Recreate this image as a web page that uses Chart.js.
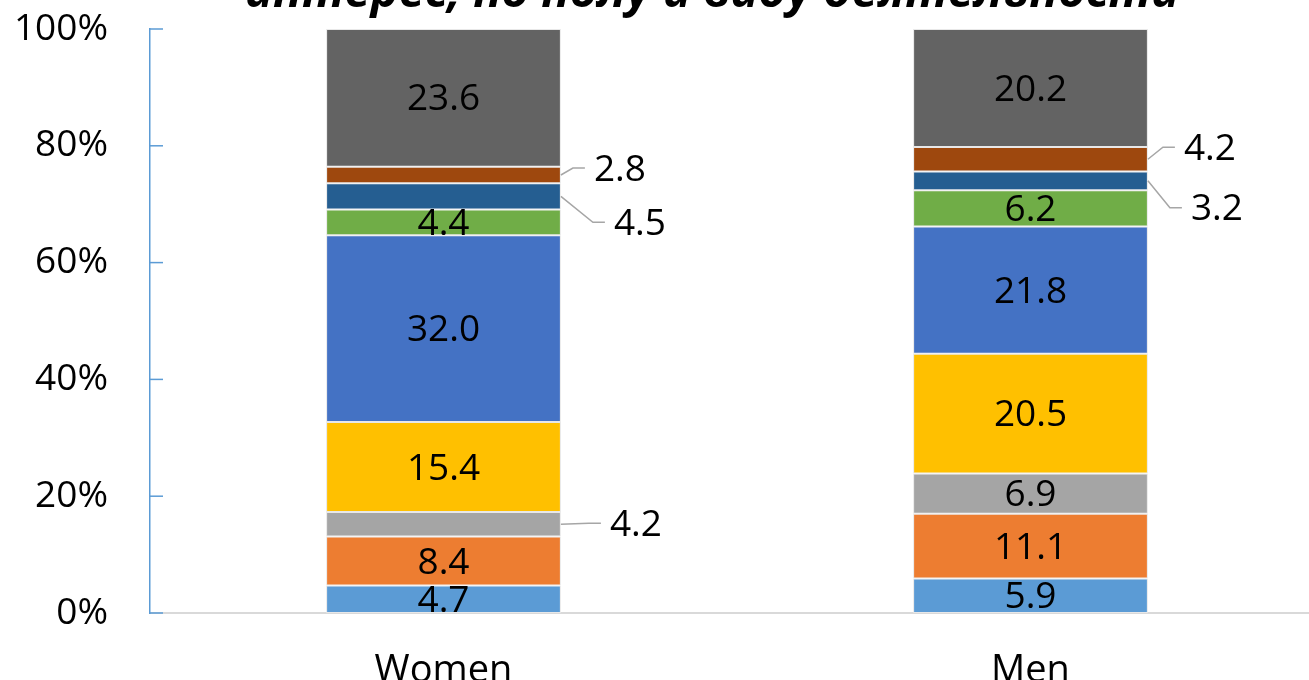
<!DOCTYPE html>
<html>
<head>
<meta charset="utf-8">
<script src="https://cdn.jsdelivr.net/npm/chart.js@4.4.1/dist/chart.umd.min.js"></script>
<style>
  html, body { margin: 0; padding: 0; overflow: hidden; background: #fff; }
  canvas { display: block; }
</style>
</head>
<body>
<canvas id="grafico" width="1324" height="680"></canvas>
<script>
// categorias e valores (% por segmento, de baixo para cima)
var categorias = ["Women", "Men"];
var serie1 = [4.7, 5.9];
var serie2 = [8.4, 11.1];
var serie3 = [4.2, 6.9];
var serie4 = [15.4, 20.5];
var serie5 = [32.0, 21.8];
var serie6 = [4.4, 6.2];
var serie7 = [4.5, 3.2];
var serie8 = [2.8, 4.2];
var serie9 = [23.6, 20.2];
var ticksY = [0, 20, 40, 60, 80, 100];

var cores = ["#5B9BD5", "#ED7D31", "#A5A5A5", "#FFC000", "#4472C4", "#70AD47", "#255E91", "#9E480E", "#636363"];

// rótulos que ficam fora da barra, com linha de chamada: [serie, categoria, dx, dy]
var rotulosFora = [
  [2, 0, 28, -1],
  [6, 0, 32, 26],
  [7, 0, 12, -7],
  [6, 1, 22, 27],
  [7, 1, 15, -12]
];

var fonte = "'Open Sans', sans-serif";

function achar_fora(ds, idx) {
  for (var k = 0; k < rotulosFora.length; k++) {
    if (rotulosFora[k][0] === ds && rotulosFora[k][1] === idx) return rotulosFora[k];
  }
  return null;
}

var pluginRotulos = {
  id: 'rotulos',
  afterDatasetsDraw: function(chart) {
    var ctx = chart.ctx;
    ctx.save();
    ctx.font = "37px " + fonte;
    ctx.fillStyle = "#000";
    chart.data.datasets.forEach(function(ds, i) {
      var meta = chart.getDatasetMeta(i);
      meta.data.forEach(function(bar, j) {
        var texto = ds.data[j].toFixed(1);
        var meio = (bar.y + bar.base) / 2;
        var fora = achar_fora(i, j);
        if (fora) {
          var x0 = bar.x + bar.width / 2;
          var x1 = x0 + fora[2];
          var y1 = meio + fora[3];
          ctx.strokeStyle = "#A6A6A6";
          ctx.lineWidth = 1.5;
          ctx.beginPath();
          ctx.moveTo(x0, meio);
          ctx.lineTo(x1, y1);
          ctx.lineTo(x1 + 12, y1);
          ctx.stroke();
          ctx.textAlign = "left";
          ctx.textBaseline = "middle";
          ctx.fillText(texto, x1 + 21, y1 + 2);
        } else {
          ctx.textAlign = "center";
          ctx.textBaseline = "middle";
          ctx.fillText(texto, bar.x, meio + 2);
        }
      });
    });
    ctx.restore();
  }
};

var pluginEixo = {
  id: 'eixo',
  afterDraw: function(chart) {
    var ctx = chart.ctx;
    var y = chart.scales.y;
    ctx.save();
    ctx.strokeStyle = "#5B9BD5";
    ctx.lineWidth = 1.5;
    ticksY.forEach(function(v) {
      var py = y.getPixelForValue(v);
      ctx.beginPath();
      ctx.moveTo(chart.chartArea.left, py);
      ctx.lineTo(chart.chartArea.left + 13, py);
      ctx.stroke();
    });
    // titulo (cortado no topo)
    ctx.fillStyle = "#000";
    ctx.font = "bold italic 47px " + fonte;
    ctx.textAlign = "center";
    ctx.textBaseline = "alphabetic";
    ctx.fillText("интерес, по полу и виду деятельности", 712, 7, 935);
    ctx.restore();
  }
};

var nomes = ["s1", "s2", "s3", "s4", "s5", "s6", "s7", "s8", "s9"];
var series = [serie1, serie2, serie3, serie4, serie5, serie6, serie7, serie8, serie9];

new Chart(document.getElementById("grafico"), {
  type: 'bar',
  data: {
    labels: categorias,
    datasets: series.map(function(s, i) {
      return {
        label: nomes[i],
        data: s,
        backgroundColor: cores[i],
        borderColor: "#E8E8E8",
        borderWidth: 1,
        borderSkipped: false,
        categoryPercentage: 1,
        barPercentage: 0.4
      };
    })
  },
  plugins: [pluginRotulos, pluginEixo],
  options: {
    responsive: false,
    animation: false,
    layout: { padding: { top: 29, right: 0, left: 0, bottom: 0 } },
    plugins: {
      legend: { display: false },
      title: { display: false },
      tooltip: { enabled: false }
    },
    scales: {
      x: {
        stacked: true,
        grid: { display: false, drawTicks: false },
        border: { display: true, color: "#D9D9D9", width: 2 },
        ticks: { color: "#000", font: { family: fonte, size: 38 }, padding: 35 },
        afterFit: function(s) { s.height = 67; s.paddingLeft = 0; s.paddingRight = 0; }
      },
      y: {
        stacked: true,
        min: 0,
        max: 100,
        grid: { display: false, drawTicks: false },
        border: { display: true, color: "#5B9BD5", width: 1.5 },
        ticks: {
          stepSize: 20,
          color: "#000",
          font: { family: fonte, size: 37 },
          padding: 42,
          callback: function(v) { return v + "%"; }
        },
        afterFit: function(s) { s.width = 150; s.paddingTop = 0; s.paddingBottom = 0; }
      }
    }
  }
});
</script>
</body>
</html>
